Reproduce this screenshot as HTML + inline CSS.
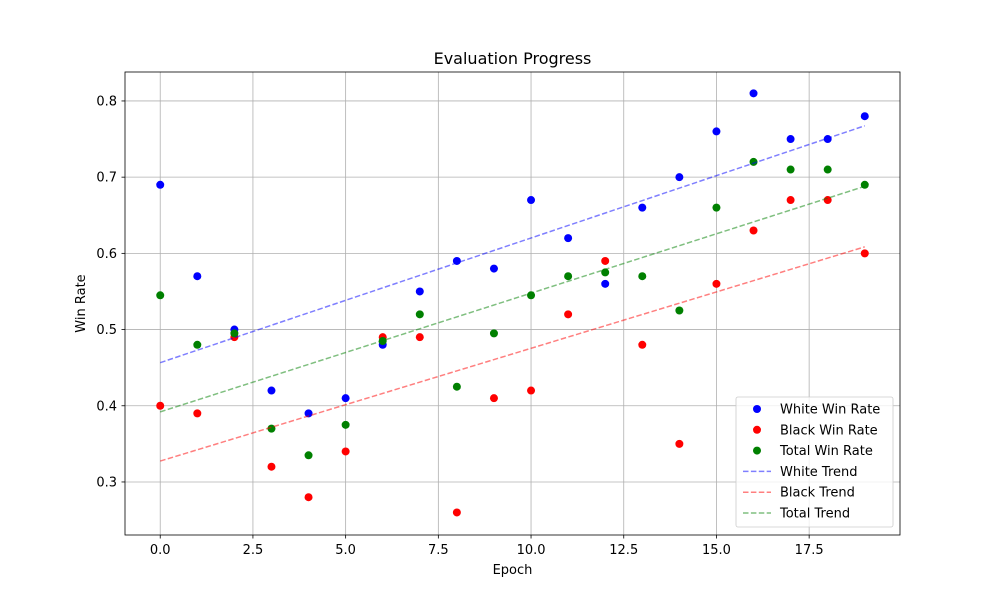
<!DOCTYPE html>
<html><head><meta charset="utf-8"><style>
body{margin:0;background:#fff;font-family:"Liberation Sans","DejaVu Sans",sans-serif}
svg text{font-family:"DejaVu Sans","Liberation Sans",sans-serif}
</style></head><body>
<svg id="c" width="1000" height="600" xmlns="http://www.w3.org/2000/svg"></svg>
<script>
const epochs=[0,1,2,3,4,5,6,7,8,9,10,11,12,13,14,15,16,17,18,19];
const whiteRate=[0.69,0.57,0.50,0.42,0.39,0.41,0.48,0.55,0.59,0.58,0.67,0.62,0.56,0.66,0.70,0.76,0.81,0.75,0.75,0.78];
const blackRate=[0.40,0.39,0.49,0.32,0.28,0.34,0.49,0.49,0.26,0.41,0.42,0.52,0.59,0.48,0.35,0.56,0.63,0.67,0.67,0.60];
const totalRate=[0.545,0.48,0.495,0.37,0.335,0.375,0.485,0.52,0.425,0.495,0.545,0.57,0.575,0.57,0.525,0.66,0.72,0.71,0.71,0.69];
const xTicks=[0,2.5,5,7.5,10,12.5,15,17.5];
const xTickLabels=["0.0","2.5","5.0","7.5","10.0","12.5","15.0","17.5"];
const yTicks=[0.3,0.4,0.5,0.6,0.7,0.8];
const yTickLabels=["0.3","0.4","0.5","0.6","0.7","0.8"];
const L=125,R=900,T=72,B=535,xmin=-0.95,xmax=19.95,ymin=0.2304,ymax=0.838;
const sx=v=>L+(v-xmin)/(xmax-xmin)*(R-L);
const sy=v=>B-(v-ymin)/(ymax-ymin)*(B-T);
const svg=document.getElementById('c');const NS="http://www.w3.org/2000/svg";
function mk(tag,attrs,parent){const e=document.createElementNS(NS,tag);for(const k in attrs)e.setAttribute(k,attrs[k]);(parent||svg).appendChild(e);return e;}
function txt(s,attrs){const e=mk('text',attrs);e.textContent=s;return e;}
xTicks.forEach((t,i)=>{const x=sx(t);
 const g=mk('line',{x1:x,x2:x,y1:T,y2:B,stroke:'#b0b0b0','stroke-width':0.8});
 
 
 mk('line',{x1:x,x2:x,y1:B,y2:B+3.5,stroke:'#000','stroke-width':0.8});
 const l=txt(xTickLabels[i],{x:x,y:B+19,'text-anchor':'middle','font-size':13});
 
 });
yTicks.forEach((t,i)=>{const y=sy(t);
 const g=mk('line',{x1:L,x2:R,y1:y,y2:y,stroke:'#b0b0b0','stroke-width':0.8});
 
 
 mk('line',{x1:L-3.5,x2:L,y1:y,y2:y,stroke:'#000','stroke-width':0.8});
 const l=txt(yTickLabels[i],{x:L-8,y:y+4.5,'text-anchor':'end','font-size':13});
 
 });
function fit(ys){const n=epochs.length;let mx=0,my=0;epochs.forEach((x,i)=>{mx+=x;my+=ys[i]});mx/=n;my/=n;let a=0,b=0;epochs.forEach((x,i)=>{a+=(x-mx)*(ys[i]-my);b+=(x-mx)**2});const m=a/b;return [m,my-m*mx];}
const series=[[whiteRate,'blue','#0000ff','white'],[blackRate,'red','#ff0000','black'],[totalRate,'green','#008000','total']];
series.forEach(([d,c,lc,n])=>{
 d.forEach((v,i)=>{const p=mk('circle',{cx:sx(epochs[i]),cy:sy(v),r:4,fill:c});
  
  });
});
series.forEach(([d,c,lc,n])=>{const [m,b]=fit(d);const x0=epochs[0],x1=epochs[epochs.length-1];
 const l=mk('line',{x1:sx(x0),y1:sy(m*x0+b),x2:sx(x1),y2:sy(m*x1+b),stroke:lc,'stroke-opacity':0.5,'stroke-width':1.5,'stroke-dasharray':'5.5,2.4'});
 
 });
const fr=mk('rect',{x:L,y:T,width:R-L,height:B-T,fill:'none',stroke:'#000','stroke-width':0.8});


const ti=txt('Evaluation Progress',{x:(L+R)/2,y:T-8,'text-anchor':'middle','font-size':16});


const xt=txt('Epoch',{x:(L+R)/2,y:B+39,'text-anchor':'middle','font-size':13});


const yt=txt('Win Rate',{x:0,y:0,'text-anchor':'middle','font-size':13,transform:`translate(85,${(T+B)/2}) rotate(-90)`});


const lg=mk('rect',{x:736,y:397,width:157,height:130,rx:2,fill:'#fff','fill-opacity':0.8,stroke:'#ccc','stroke-width':0.8});


const entries=[['White Win Rate','blue',0],['Black Win Rate','red',0],['Total Win Rate','green',0],['White Trend','#0000ff',1],['Black Trend','#ff0000',1],['Total Trend','#008000',1]];
entries.forEach(([s,c,ln],i)=>{const y=409+i*20.8;
 if(ln){mk('line',{x1:743,x2:771,y1:y,y2:y,stroke:c,'stroke-opacity':0.5,'stroke-width':1.5,'stroke-dasharray':'5.5,2.4'});}
 else mk('circle',{cx:757,cy:y,r:4,fill:c});
 const t=txt(s,{x:780,y:y+4.5,'font-size':13});
 
 });
</script>
</body></html>
